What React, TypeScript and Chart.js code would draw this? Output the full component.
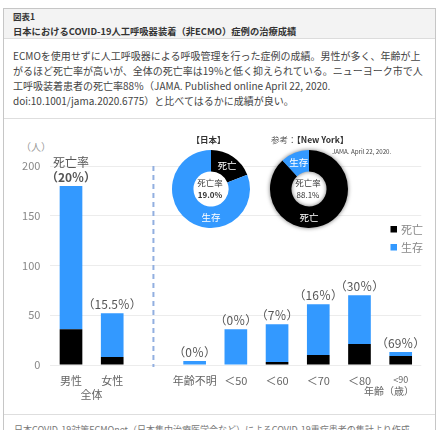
import React, { useEffect, useRef } from 'react';
import { Chart, registerables } from 'chart.js';

Chart.register(...registerables);

const FONT = '"Noto Sans CJK JP", "Noto Sans", sans-serif';

// ---- data ----
const categories = ['男性', '女性', '', '年齢不明', '＜50', '＜60', '＜70', '＜80', '<90'];
const deaths = [36, 8, null, 0, 0, 3, 10, 21, 9];
const survivors = [144, 44, null, 4, 36, 38, 51, 49, 4];
const rateLabels = ['（20％）', '（15.5％）', '', '（0％）', '（0％）', '（7％）', '（16％）', '（30％）', '（69％）'];
const yTicks = [0, 50, 100, 150, 200];
const seriesNames = ['死亡', '生存'];
const seriesColors = ['#000000', '#3399ff'];
const japanValues = [19.0, 81.0];
const nyValues = [88.1, 11.9];

const paragraphLines = [
  'ECMOを使用せずに人工呼吸器による呼吸管理を行った症例の成績。男性が多く、年齢が上',
  'がるほど死亡率が高いが、全体の死亡率は19%と低く抑えられている。ニューヨーク市で人',
  '工呼吸装着患者の死亡率88％（JAMA. Published online April 22, 2020.',
  'doi:10.1001/jama.2020.6775）と比べてはるかに成績が良い。',
];

const overlayPlugin = {
  id: 'overlay',
  afterDraw(chart: any) {
    const { ctx } = chart;
    const x = chart.scales.x;
    const y = chart.scales.y;
    ctx.save();
    // dashed divider on blank category
    const dx = x.getPixelForValue(2);
    ctx.strokeStyle = '#92afe0';
    ctx.lineWidth = 2;
    ctx.setLineDash([5, 4]);
    ctx.beginPath();
    ctx.moveTo(dx, y.getPixelForValue(200));
    ctx.lineTo(dx, y.getPixelForValue(0) + 2);
    ctx.stroke();
    ctx.setLineDash([]);

    // rate labels
    ctx.textAlign = 'center';
    ctx.textBaseline = 'middle';
    ctx.fillStyle = '#555';
    categories.forEach((_c, i) => {
      if (!rateLabels[i]) return;
      const total = (deaths[i] || 0) + (survivors[i] || 0);
      const px = x.getPixelForValue(i);
      const top = y.getPixelForValue(total);
      ctx.font = `${i === 0 ? 'bold ' : ''}12px ${FONT}`;
      ctx.fillText(rateLabels[i], px, top - 8.5);
      if (i === 0) {
        ctx.font = `12px ${FONT}`;
        ctx.fillText('死亡率', px, top - 23.5);
      }
    });

    // group labels
    ctx.fillStyle = '#666';
    ctx.font = `11px ${FONT}`;
    ctx.fillText('全体', (x.getPixelForValue(0) + x.getPixelForValue(1)) / 2, 276);
    ctx.textAlign = 'right';
    ctx.font = `10px ${FONT}`;
    ctx.fillText('年齢（歳）', 410, 272);

    // legend
    ctx.textAlign = 'left';
    ctx.font = `11px ${FONT}`;
    seriesNames.forEach((n, i) => {
      const ly = 110 + i * 18;
      ctx.fillStyle = seriesColors[i];
      ctx.fillRect(386.5, ly - 3, 6.5, 6.5);
      ctx.fillStyle = '#888';
      ctx.fillText(n, 397, ly + 0.5);
    });
    ctx.restore();
  },
};

function makeDonutPlugin(shadow: boolean) {
  return {
    id: 'donutLabels',
    beforeDatasetsDraw(chart: any) {
      if (!shadow) return;
      const ctx = chart.ctx;
      ctx.save();
      ctx.shadowColor = 'rgba(0,0,0,0.55)';
      ctx.shadowBlur = 4;
    },
    afterDatasetsDraw(chart: any) {
      const ctx = chart.ctx;
      if (shadow) ctx.restore();
      const meta = chart.getDatasetMeta(0);
      const values = chart.data.datasets[0].data as number[];
      ctx.save();
      ctx.textAlign = 'center';
      ctx.textBaseline = 'middle';
      let cx = 0;
      let cy = 0;
      meta.data.forEach((arc: any, i: number) => {
        const p = arc.getProps(['x', 'y', 'startAngle', 'endAngle', 'innerRadius', 'outerRadius'], true);
        cx = p.x;
        cy = p.y;
        const share = (p.endAngle - p.startAngle) / (2 * Math.PI);
        const ang = share > 0.5 ? Math.PI / 2 : (p.startAngle + p.endAngle) / 2;
        const r = (p.innerRadius + p.outerRadius) / 2;
        ctx.fillStyle = '#fff';
        ctx.font = `9.5px ${FONT}`;
        ctx.fillText(seriesNames[i], p.x + r * Math.cos(ang), p.y + r * Math.sin(ang));
      });
      ctx.fillStyle = '#333';
      ctx.font = `8.5px ${FONT}`;
      ctx.fillText('死亡率', cx - 1, cy - 6.5);
      ctx.font = `${shadow ? '' : 'bold '}8px ${FONT}`;
      ctx.fillText(`${values[0].toFixed(1)}%`, cx - 1, cy + 5.5);
      ctx.restore();
    },
  };
}

function Donut({ values, left, top, shadow }: { values: number[]; left: number; top: number; shadow: boolean }) {
  const ref = useRef<HTMLCanvasElement>(null);
  useEffect(() => {
    const chart = new Chart(ref.current as HTMLCanvasElement, {
      type: 'doughnut',
      data: {
        labels: seriesNames,
        datasets: [{ data: values, backgroundColor: seriesColors, borderWidth: 0 }],
      },
      options: {
        animation: false,
        responsive: false,
        maintainAspectRatio: false,
        cutout: '45%',
        layout: { padding: 6 },
        plugins: { legend: { display: false }, tooltip: { enabled: false } },
      },
      plugins: [makeDonutPlugin(shadow)],
    } as any);
    return () => chart.destroy();
  }, []);
  return (
    <canvas
      ref={ref}
      width={90}
      height={90}
      style={{ position: 'absolute', left, top, width: 90, height: 90 }}
    />
  );
}

function Bars() {
  const ref = useRef<HTMLCanvasElement>(null);
  useEffect(() => {
    const chart = new Chart(ref.current as HTMLCanvasElement, {
      type: 'bar',
      data: {
        labels: categories,
        datasets: [
          { label: seriesNames[0], data: deaths, backgroundColor: seriesColors[0], stack: 's' },
          { label: seriesNames[1], data: survivors, backgroundColor: seriesColors[1], stack: 's' },
        ],
      },
      options: {
        animation: false,
        responsive: false,
        maintainAspectRatio: false,
        layout: { padding: { top: 47, right: 13.7, left: 0, bottom: 0 } },
        plugins: { legend: { display: false }, tooltip: { enabled: false } },
        datasets: { bar: { categoryPercentage: 1, barPercentage: 0.55 } },
        scales: {
          x: {
            stacked: true,
            grid: { display: false, drawTicks: false },
            border: { display: false },
            ticks: {
              autoSkip: false,
              maxRotation: 0,
              padding: 9.4,
              color: '#666',
              font: (c: any) => ({ size: c.index === 8 ? 9 : 11, family: FONT }),
            },
            afterFit: (s: any) => {
              s.height = 48;
            },
          },
          y: {
            stacked: true,
            min: 0,
            max: 200,
            grid: { color: '#ececec', drawTicks: false, lineWidth: 1 },
            border: { display: false },
            ticks: { padding: 10, color: '#888', font: { size: 11, family: FONT } },
            afterBuildTicks: (s: any) => {
              s.ticks = yTicks.map((v) => ({ value: v }));
            },
            afterFit: (s: any) => {
              s.width = 46.4;
            },
          },
        },
      },
      plugins: [overlayPlugin],
    } as any);
    return () => chart.destroy();
  }, []);
  return (
    <canvas
      ref={ref}
      width={431}
      height={294}
      style={{ position: 'absolute', left: 4, top: 119, width: 431, height: 294 }}
    />
  );
}

function Txt({ x, y, size, children, bold, color, align }: any) {
  return (
    <div
      style={{
        position: 'absolute',
        left: align === 'center' ? x - 100 : x,
        width: align === 'center' ? 200 : undefined,
        textAlign: align || 'left',
        top: y - size * 0.75,
        fontSize: size,
        lineHeight: `${size * 1.5}px`,
        fontWeight: bold ? 700 : 400,
        color: color || '#333',
        whiteSpace: 'nowrap',
        fontFamily: FONT,
      }}
    >
      {children}
    </div>
  );
}

export default function App() {
  return (
    <div
      style={{
        position: 'fixed',
        left: 0,
        top: 0,
        width: 440,
        height: 430,
        overflow: 'hidden',
        background: '#fff',
        fontFamily: FONT,
      }}
    >
      {/* frame */}
      <div
        style={{
          position: 'absolute',
          left: 3,
          top: 8,
          width: 433,
          height: 440,
          border: '1px solid #c6c6c6',
          boxSizing: 'border-box',
        }}
      />
      {/* header */}
      <div style={{ position: 'absolute', left: 4, top: 9, width: 431, height: 29, background: '#f3f3f3', borderBottom: '1px solid #dcdcdc' }} />
      <Txt x={13} y={16.5} size={8.5} bold color="#333">図表1</Txt>
      <Txt x={13} y={31.5} size={9.3} bold color="#333">日本におけるCOVID-19人工呼吸器装着（非ECMO）症例の治療成績</Txt>
      {paragraphLines.map((l, i) => (
        <Txt key={i} x={13} y={55.5 + i * 15} size={10} color="#444">{l}</Txt>
      ))}
      {/* section dividers */}
      <div style={{ position: 'absolute', left: 4, top: 118, width: 431, height: 1, background: '#dedede' }} />
      <div style={{ position: 'absolute', left: 4, top: 414, width: 431, height: 1, background: '#dedede' }} />
      <Txt x={21} y={146} size={10} color="#999">（人）</Txt>
      <Bars />
      <Txt x={208.5} y={139} size={8.5} bold color="#333" align="center">【日本】</Txt>
      <Txt x={271} y={139} size={8.5} color="#555">参考：<b style={{ color: '#333' }}>【New York】</b></Txt>
      <Txt x={332} y={152} size={6.2} color="#444">JAMA. April 22, 2020.</Txt>
      <Donut values={japanValues} left={166} top={144} shadow={false} />
      <Donut values={nyValues} left={264} top={144} shadow={true} />
      <Txt x={14} y={430} size={9} color="#777">日本COVID-19対策ECMOnet（日本集中治療医学会など）によるCOVID-19重症患者の集計より作成</Txt>
    </div>
  );
}
